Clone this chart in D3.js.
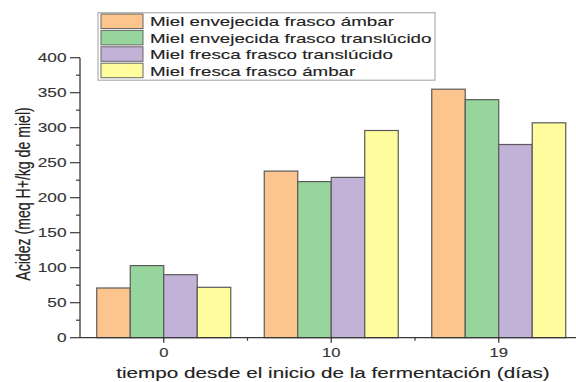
<!DOCTYPE html>
<html><head><meta charset="utf-8">
<script src="https://cdn.jsdelivr.net/npm/d3@7"></script>
<style>html,body{margin:0;padding:0;background:#fff;overflow:hidden}svg{display:block}</style>
</head><body>
<svg id="chart" width="576" height="382"></svg>
<script>
const categories = ["0", "10", "19"];
const seriesNames = ["Miel envejecida frasco ámbar", "Miel envejecida frasco translúcido", "Miel fresca frasco translúcido", "Miel fresca frasco ámbar"];
const envejecidaAmbar = [71, 238, 355];
const envejecidaTranslucido = [103, 223, 340];
const frescaTranslucido = [90, 229, 276];
const frescaAmbar = [72, 296, 307];
const yTicks = [0, 50, 100, 150, 200, 250, 300, 350, 400];
const colors = ["#FDC58E", "#96D59B", "#C3B2D8", "#FFFC9E"];
const xTitle = "tiempo desde el inicio de la fermentación (días)";
const yTitle = "Acidez (meq H+/kg de miel)";

const series = [envejecidaAmbar, envejecidaTranslucido, frescaTranslucido, frescaAmbar];
const SX = 1.38;
const svg = d3.select("#chart");
const font = "'Liberation Sans', Arial, sans-serif";

const x = d3.scaleBand().domain(categories).range([80, 582.5]).paddingInner(0.2).paddingOuter(0.1);
const x1 = d3.scaleBand().domain(d3.range(series.length)).range([0, x.bandwidth()]);
const y = d3.scaleLinear().domain([0, 400]).range([337.7, 57.7]);

function stext(g, tx, ty, str, size, anchor, color, rot) {
  const t = g.append("g").attr("transform", `translate(${tx},${ty}) scale(${SX},1)` + (rot ? ` rotate(${rot})` : ""));
  t.append("text").attr("x", 0).attr("y", 0).attr("text-anchor", anchor)
    .attr("font-family", font).attr("font-size", size).attr("fill", color)
    .attr("stroke", color).attr("stroke-width", 0.12).text(str);
  return t;
}

// bars
const groups = svg.append("g");
categories.forEach((c, ci) => {
  series.forEach((s, si) => {
    groups.append("rect")
      .attr("x", x(c) + x1(si))
      .attr("y", y(s[ci]))
      .attr("width", x1.bandwidth())
      .attr("height", y(0) - y(s[ci]))
      .attr("fill", colors[si])
      .attr("stroke", "#5a5a5a").attr("stroke-width", 1.2);
  });
});

// y axis
const axisColor = "#3a3a3a";
svg.append("line").attr("x1", 80).attr("x2", 80).attr("y1", y(400)).attr("y2", y(0)).attr("stroke", axisColor).attr("stroke-width", 1.3);
d3.range(0, 401, 25).forEach(v => {
  const major = v % 50 === 0;
  svg.append("line").attr("x1", major ? 70 : 76).attr("x2", 80).attr("y1", y(v)).attr("y2", y(v))
    .attr("stroke", axisColor).attr("stroke-width", 1.2);
});
yTicks.forEach(v => stext(svg, 66.5, y(v) + 4.5, String(v), 12.5, "end", "#333"));

// x axis
svg.append("line").attr("x1", 80).attr("x2", 576).attr("y1", y(0)).attr("y2", y(0)).attr("stroke", axisColor).attr("stroke-width", 1.3);
categories.forEach(c => {
  const cx = x(c) + x.bandwidth() / 2;
  svg.append("line").attr("x1", cx).attr("x2", cx).attr("y1", y(0)).attr("y2", y(0) + 5).attr("stroke", axisColor).attr("stroke-width", 1.3);
  stext(svg, cx, 357, c, 12, "middle", "#333");
});
categories.slice(1).forEach(c => {
  const mx = x(c) - x.step() * x.paddingInner() / 2;
  svg.append("line").attr("x1", mx).attr("x2", mx).attr("y1", y(0)).attr("y2", y(0) + 3).attr("stroke", axisColor).attr("stroke-width", 1.2);
});

// titles
stext(svg, 333, 378, xTitle, 15, "middle", "#222");
stext(svg, 30, 194, yTitle, 14.1, "middle", "#222", -90);

// legend
const lg = svg.append("g");
lg.append("rect").attr("x", 98).attr("y", 12.7).attr("width", 337).attr("height", 67.5)
  .attr("fill", "#fff").attr("stroke", "#b0b0b0").attr("stroke-width", 1.2);
seriesNames.forEach((n, i) => {
  const ry = 14 + i * 16.4;
  lg.append("rect").attr("x", 101).attr("y", ry).attr("width", 42).attr("height", 14.5)
    .attr("fill", colors[i]).attr("stroke", "#666").attr("stroke-width", 1);
  stext(lg, 150, ry + 12.3, n, 13.6, "start", "#222");
});
</script>
</body></html>
